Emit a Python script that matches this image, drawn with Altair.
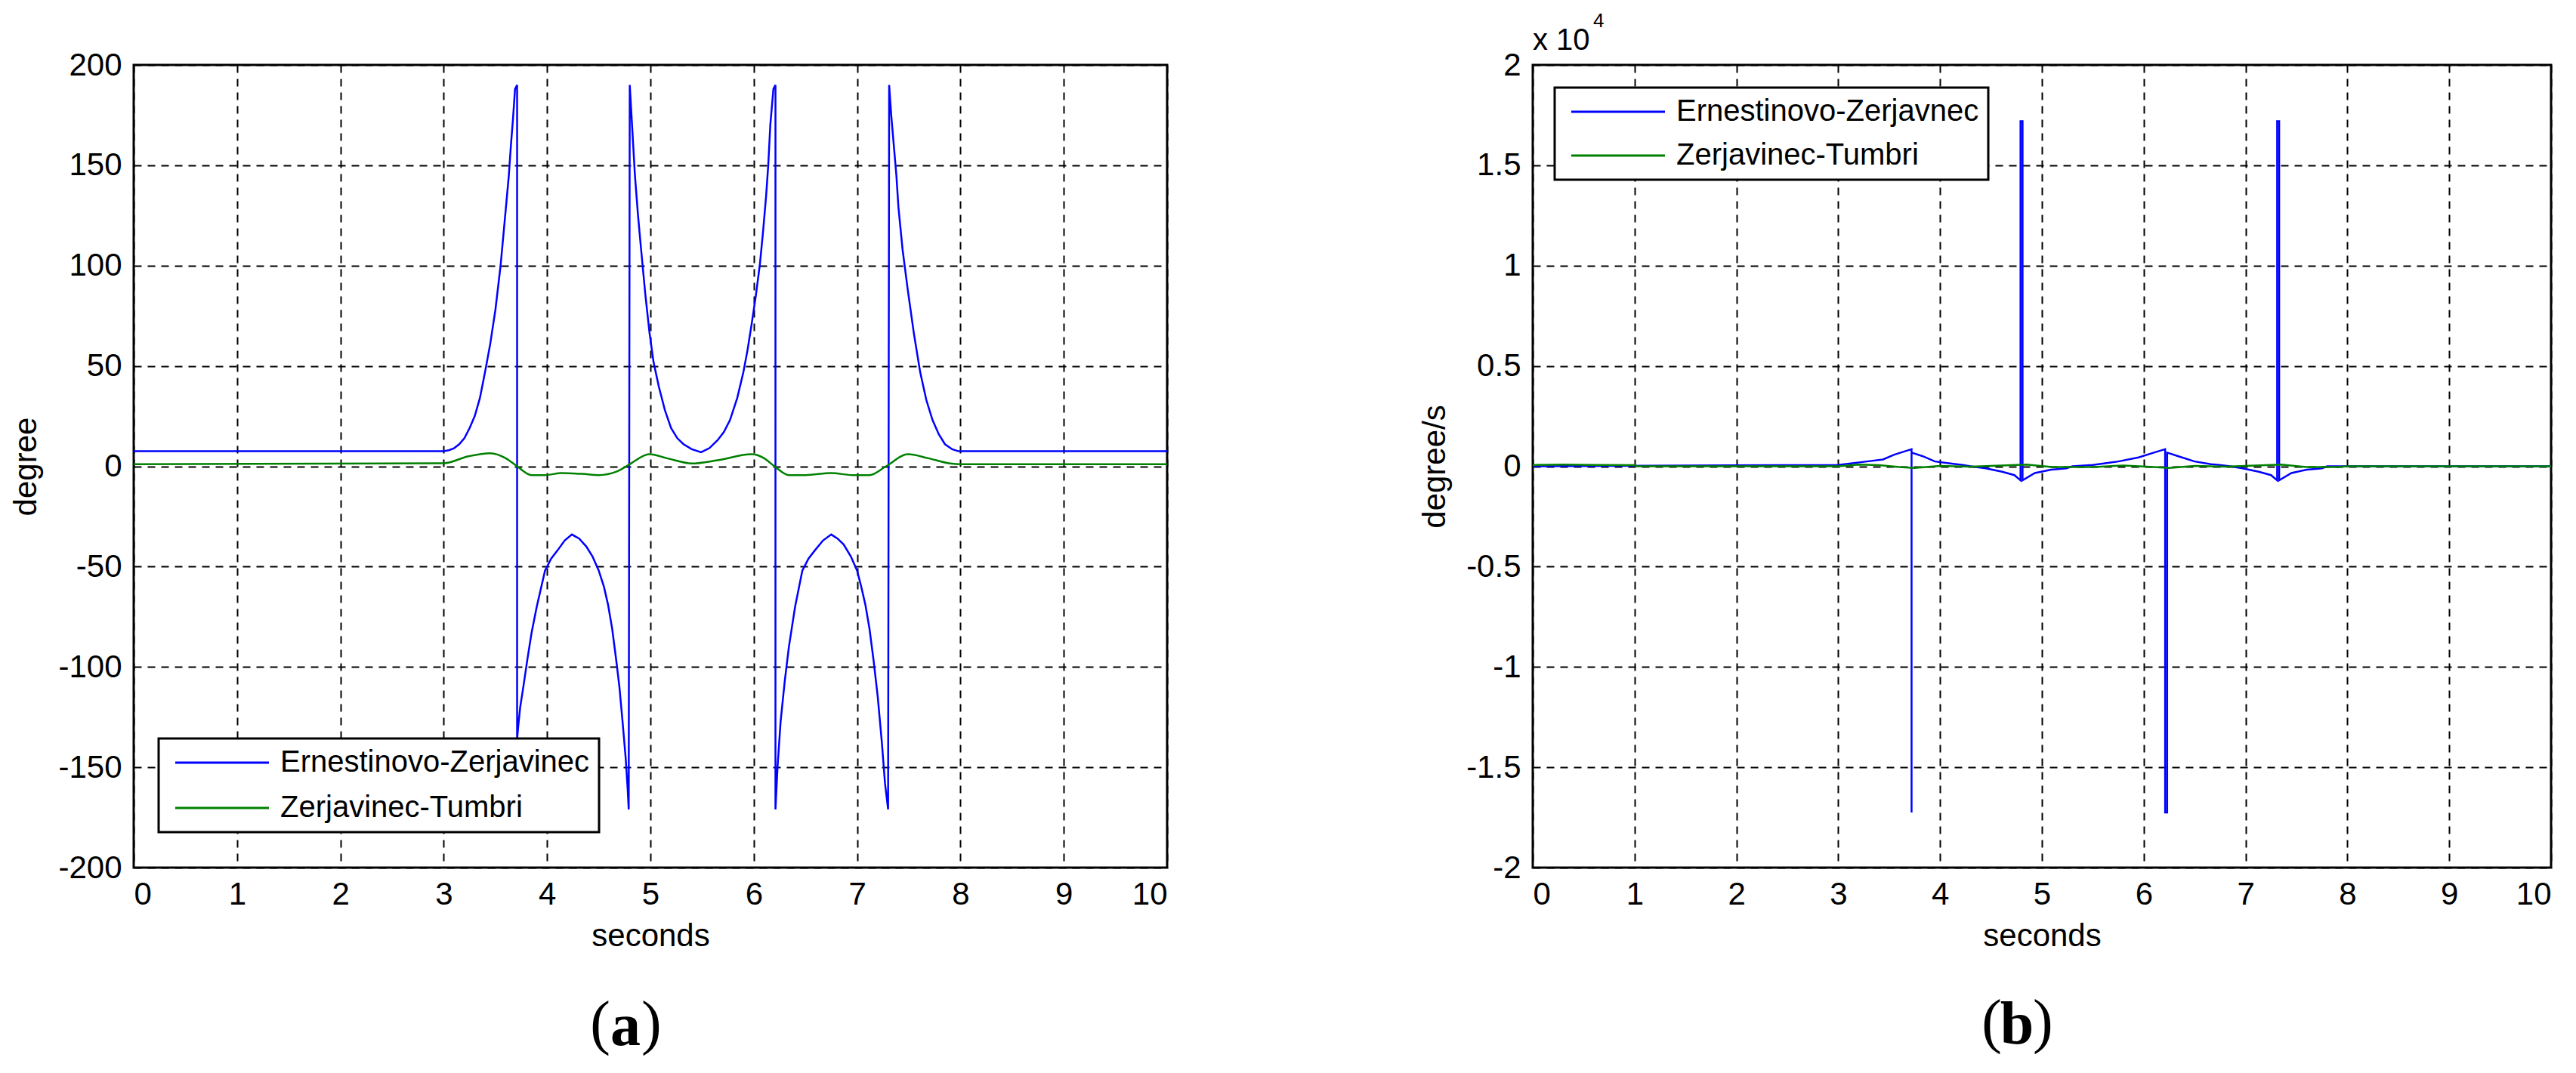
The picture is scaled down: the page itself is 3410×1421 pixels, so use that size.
import altair as alt
import pandas as pd

# ---------------- data ----------------
x_ticks = list(range(0, 11))
a_y_ticks = [-200, -150, -100, -50, 0, 50, 100, 150, 200]
b_y_ticks = [-2, -1.5, -1, -0.5, 0, 0.5, 1, 1.5, 2]

series_a = ["Ernestinovo-Zerjavinec", "Zerjavinec-Tumbri"]
series_b = ["Ernestinovo-Zerjavnec", "Zerjavinec-Tumbri"]
colors = ["#0000ff", "#008000"]

# panel (a): angle [degree]
a_blue_t = [0, 3.0, 3.05, 3.1, 3.15, 3.2, 3.25, 3.3, 3.35, 3.4, 3.45, 3.5, 3.55, 3.6,
            3.63, 3.65, 3.67, 3.69, 3.71,
            3.71, 3.72, 3.74, 3.77, 3.81, 3.85, 3.9, 3.98, 4.04, 4.1, 4.17, 4.24, 4.31,
            4.38, 4.44, 4.5, 4.55, 4.59, 4.63, 4.67, 4.7, 4.73, 4.76, 4.78, 4.79,
            4.80, 4.82, 4.85, 4.88, 4.91, 4.95, 4.99, 5.03, 5.08, 5.14, 5.2, 5.26, 5.32,
            5.4, 5.49, 5.57, 5.65, 5.71, 5.77, 5.84, 5.9, 5.94, 5.98, 6.02, 6.06, 6.09,
            6.12, 6.14, 6.16, 6.19, 6.21,
            6.21, 6.23, 6.26, 6.3, 6.34, 6.4, 6.47, 6.53, 6.59, 6.67, 6.75, 6.81, 6.87,
            6.94, 7.0, 7.04, 7.08, 7.12, 7.16, 7.2, 7.24, 7.27, 7.3,
            7.31, 7.33, 7.35, 7.38, 7.4, 7.44, 7.49, 7.55, 7.61, 7.67, 7.73, 7.79, 7.85,
            7.92, 7.98, 10]
a_blue_v = [7.5, 7.5, 8, 9, 11, 14, 19, 25, 34, 47, 61, 78, 100, 128,
            145, 160, 173, 188, 190,
            -136, -130, -120, -110, -96, -83, -70, -52, -46, -42, -37, -34, -36,
            -40, -45, -52, -60, -69, -81, -97, -110, -127, -145, -161, -171,
            190, 172, 145, 125, 108, 86, 67, 52, 40, 28, 19, 14, 11,
            8.5, 7, 9, 13, 17, 23, 34, 47, 58, 71, 85, 101, 117,
            135, 150, 170, 188, 190,
            -171, -150, -127, -107, -90, -70, -52, -46, -42, -37, -34, -36, -39,
            -45, -52, -60, -69, -81, -97, -115, -138, -158, -171,
            190, 175, 163, 145, 129, 108, 88, 66, 47, 33, 23, 16, 11,
            8.5, 7.5, 7.5]
a_green_t = [0, 3.0, 3.24, 3.45, 3.6, 3.71, 3.85, 3.98, 4.14, 4.34, 4.5, 4.67, 4.79,
             4.99, 5.16, 5.4, 5.65, 5.98, 6.1, 6.2, 6.34, 6.5, 6.75, 6.96, 7.12, 7.28,
             7.49, 7.69, 7.9, 8.0, 10]
a_green_v = [1, 1.5, 5, 6.5, 4, 0, -4.4, -4.4, -3.4, -3.8, -4.4, -2.7, 0.7,
             6, 4, 1.4, 3, 6, 4, 0, -4.4, -4.4, -3.4, -4.4, -4.4, 0,
             6, 4, 1.4, 1, 1]

# panel (b): angular speed [x 10^4 degree/s]
b_blue_t = [0, 3.0, 3.28, 3.44, 3.55, 3.72, 3.72, 3.72, 3.83, 3.95, 4.1, 4.22, 4.3,
            4.45, 4.61, 4.73, 4.79, 4.79, 4.81, 4.81, 4.93, 5.09, 5.24, 5.3, 5.5,
            5.75, 5.95, 6.1, 6.21, 6.21, 6.23, 6.23, 6.34, 6.5, 6.66, 6.74, 6.85,
            6.97, 7.13, 7.25, 7.31, 7.31, 7.33, 7.33, 7.45, 7.6, 7.75, 7.8, 10]
b_blue_v = [0, 0.007, 0.024, 0.034, 0.058, 0.085, -1.725, 0.068, 0.05, 0.024, 0.014, 0.007, 0,
            -0.01, -0.027, -0.044, -0.07, 1.72, 1.72, -0.07, -0.034, -0.017, -0.01, 0, 0.007,
            0.024, 0.044, 0.068, 0.085, -1.725, -1.725, 0.068, 0.05, 0.024, 0.01, 0.007, 0,
            -0.01, -0.027, -0.044, -0.07, 1.72, 1.72, -0.07, -0.034, -0.017, -0.01, 0, 0]
b_green_t = [0, 0.3, 0.6, 1.0, 1.02, 3.0, 3.2, 3.4, 3.6, 3.75, 4.0, 4.3, 4.6, 4.85, 5.1,
             5.5, 5.8, 6.1, 6.25, 6.5, 6.8, 7.1, 7.35, 7.6, 7.9, 8.0, 10]
b_green_v = [0.006, 0.008, 0.007, 0.006, 0, 0, 0.008, 0.006, -0.004, -0.008, 0.002, -0.002,
             0.004, 0.008, -0.004, -0.004, 0.004, -0.004, -0.008, 0.002, -0.002, 0.004,
             0.008, -0.004, -0.004, 0, 0]

FONT = "Liberation Sans, Arial, sans-serif"
SERIF = "Liberation Serif, Times New Roman, serif"
FS = 42
LFS = 40
W_A, W_B, H = 1368, 1348, 1063
LEGEND_PATH = "M-0.67,0H7.6"


def frame(t, v, name):
    return pd.DataFrame({"t": t, "v": v, "series": name, "i": list(range(len(t)))})


def caption(letter, cx, cy):
    df = pd.DataFrame({"c": [letter]})
    base = alt.Chart(df)
    mid = base.mark_text(font=SERIF, fontSize=80, fontWeight="bold", align="center",
                         baseline="middle", color="black").encode(
        x=alt.value(cx), y=alt.value(cy), text="c:N")
    lp = base.mark_text(font=SERIF, fontSize=80, text="(", align="right",
                        baseline="middle", color="black").encode(
        x=alt.value(cx - 20), y=alt.value(cy - 3))
    rp = base.mark_text(font=SERIF, fontSize=80, text=")", align="left",
                        baseline="middle", color="black").encode(
        x=alt.value(cx + 21), y=alt.value(cy - 3))
    return [lp, mid, rp]


def panel(blue_df, green_df, names, y_dom, y_ticks, y_title, title_x,
          leg_x, leg_y, row_pad, cap_letter, cap_x, cap_y, green_interp):
    color = alt.Color(
        "series:N",
        scale=alt.Scale(domain=names, range=colors),
        title=None,
        legend=alt.Legend(
            orient="none", legendX=leg_x, legendY=leg_y,
            symbolType=LEGEND_PATH, symbolSize=900, symbolStrokeWidth=3,
            labelFont=FONT, labelFontSize=LFS, labelColor="black", labelLimit=2000,
            labelOffset=109, rowPadding=row_pad, padding=12,
            strokeColor="black", fillColor="white",
        ),
    )
    x = alt.X("t:Q", scale=alt.Scale(domain=[0, 10], nice=False),
              axis=alt.Axis(values=x_ticks, title="seconds", labelPadding=15,
                            titleY=90, titleBaseline="middle",
                            labelExpr="datum.value + ''"))
    y = alt.Y("v:Q", scale=alt.Scale(domain=y_dom, nice=False, zero=False),
              axis=alt.Axis(values=y_ticks, title=y_title, labelPadding=16,
                            titleX=title_x, titleBaseline="middle",
                            labelExpr="datum.value + ''"))
    blue = alt.Chart(blue_df).mark_line(strokeWidth=2.5).encode(
        x=x, y=y, color=color, order="i:Q")
    green = alt.Chart(green_df).mark_line(strokeWidth=2.5, interpolate=green_interp).encode(
        x=x, y=y, color=color, order="i:Q")
    return [blue, green] + caption(cap_letter, cap_x, cap_y)


left_layers = panel(frame(a_blue_t, a_blue_v, series_a[0]),
                    frame(a_green_t, a_green_v, series_a[1]),
                    series_a, [-200, 200], a_y_ticks, "degree", -143,
                    33, 892, 20, "a", 651, 1274, "monotone")
left = alt.layer(*left_layers).properties(width=W_A, height=H)

right_layers = panel(frame(b_blue_t, b_blue_v, series_b[0]),
                     frame(b_green_t, b_green_v, series_b[1]),
                     series_b, [-2, 2], b_y_ticks, "degree/s", -130,
                     29, 30, 18, "b", 641, 1272, "linear")
exp_df = pd.DataFrame({"m": ["x 10"], "e": ["4"]})
mult = alt.Chart(exp_df).mark_text(font=FONT, fontSize=40, align="left",
                                   baseline="alphabetic", color="black").encode(
    x=alt.value(0), y=alt.value(-20), text="m:N")
expo = alt.Chart(exp_df).mark_text(font=FONT, fontSize=26, align="left",
                                   baseline="alphabetic", color="black").encode(
    x=alt.value(80), y=alt.value(-50), text="e:N")
right = alt.layer(*right_layers, mult, expo).properties(width=W_B, height=H)

chart = (
    alt.hconcat(left, right, spacing=484, bounds="flush",
                padding={"left": 3, "top": 5, "right": 5, "bottom": 5})
    .resolve_scale(color="independent")
    .resolve_legend(color="independent")
    .configure_view(stroke="black", strokeWidth=3)
    .configure_axis(
        labelFont=FONT, labelFontSize=FS, labelColor="black",
        titleFont=FONT, titleFontSize=FS, titleFontWeight="normal", titleColor="black",
        ticks=False, domain=False,
        grid=True, gridColor="black", gridDash=[10, 8], gridWidth=2, gridOpacity=1,
    )
    .configure_legend(strokeWidth=3, cornerRadius=0)
)

chart.save("out.html", embed_options={"renderer": "svg", "actions": False})
